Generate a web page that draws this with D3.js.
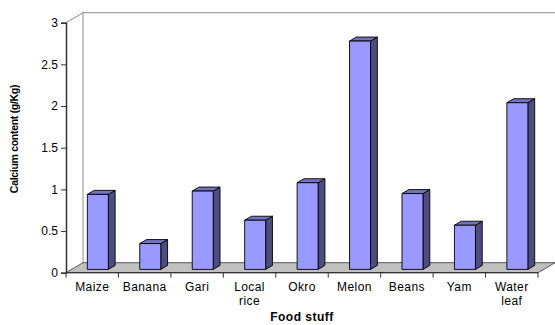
<!DOCTYPE html>
<html>
<head>
<meta charset="utf-8">
<script src="https://cdn.jsdelivr.net/npm/d3@7"></script>
<style>
  body { margin: 0; background: #fff; }
  text { font-family: "Liberation Sans", Arial, sans-serif; }
</style>
</head>
<body>
<svg width="555" height="325"></svg>
<script>
var svg = d3.select("svg");

// data
var categories = ["Maize", "Banana", "Gari", "Local rice", "Okro", "Melon", "Beans", "Yam", "Water leaf"];
var calcium = [0.90, 0.31, 0.94, 0.59, 1.04, 2.74, 0.91, 0.53, 2.0];
var yTicks = [0, 0.5, 1, 1.5, 2, 2.5, 3];

var plotLeft = 66, plotRight = 538, plotBottom = 272.7, plotTop = 22.7;
var DX = 17, DY = -10; // depth of the 3d box
var z0 = 0.33, zd = 0.4; // where the bar sits in the depth
var barW = 21;

var x = d3.scaleBand().domain(categories).range([plotLeft, plotRight]).padding(0);
var y = d3.scaleLinear().domain([0, 3]).range([plotBottom, plotTop]);

// back wall edges
var wall = svg.append("g").attr("stroke", "#8c8c8c").attr("fill", "none").attr("stroke-width", 1);
wall.append("line").attr("x1", plotLeft + DX).attr("y1", y(3) + DY).attr("x2", 555).attr("y2", y(3) + DY);
wall.append("line").attr("x1", plotLeft + DX).attr("y1", y(3) + DY).attr("x2", plotLeft + DX).attr("y2", y(0) + DY);
wall.append("line").attr("x1", plotLeft).attr("y1", y(3)).attr("x2", plotLeft + DX).attr("y2", y(3) + DY);

// floor
svg.append("path")
  .attr("d", "M" + plotLeft + "," + y(0) + "L" + plotRight + "," + y(0) +
    "L" + (plotRight + DX) + "," + (y(0) + DY) + "L" + (plotLeft + DX) + "," + (y(0) + DY) + "Z")
  .attr("fill", "#c0c0c0")
  .attr("stroke", "#333")
  .attr("stroke-width", 0.8);

// bars
var bars = svg.append("g").selectAll("g")
  .data(categories)
  .enter()
  .append("g")
  .attr("stroke", "#000")
  .attr("stroke-width", 0.9)
  .attr("stroke-linejoin", "round");

bars.each(function(d, i) {
  var g = d3.select(this);
  var x0 = x(d) + (x.bandwidth() - barW) / 2 + z0 * DX;
  var x1 = x0 + barW;
  var yb = y(0) + z0 * DY;
  var yt = y(calcium[i]) + z0 * DY;
  var dx = zd * DX, dy = zd * DY;
  // side
  g.append("path")
    .attr("d", "M" + x1 + "," + yb + "L" + (x1 + dx) + "," + (yb + dy) +
      "L" + (x1 + dx) + "," + (yt + dy) + "L" + x1 + "," + yt + "Z")
    .attr("fill", "#4d4d80");
  // top
  g.append("path")
    .attr("d", "M" + x0 + "," + yt + "L" + x1 + "," + yt +
      "L" + (x1 + dx) + "," + (yt + dy) + "L" + (x0 + dx) + "," + (yt + dy) + "Z")
    .attr("fill", "#7373bf");
  // front
  g.append("rect")
    .attr("x", x0).attr("y", yt)
    .attr("width", barW).attr("height", yb - yt)
    .attr("fill", "#9999ff");
});

// y axis
var yAxis = svg.append("g")
  .attr("transform", "translate(" + plotLeft + ",0)")
  .call(d3.axisLeft(y).tickValues(yTicks).tickSize(5).tickPadding(3).tickFormat(d3.format("")));
yAxis.select(".domain").attr("stroke", "#333").attr("stroke-width", 1.5);
yAxis.selectAll(".tick line").attr("stroke", "#333");
yAxis.selectAll("text").attr("font-size", 12).attr("fill", "#000")
  .attr("font-family", "'Liberation Sans', Arial, sans-serif");

// x axis: ticks on category boundaries
svg.append("line").attr("x1", plotLeft).attr("x2", plotRight).attr("y1", plotBottom).attr("y2", plotBottom)
  .attr("stroke", "#333").attr("stroke-width", 1.2);
svg.append("g").selectAll("line")
  .data(categories.concat(["end"]))
  .enter()
  .append("line")
  .attr("x1", function(d, i) { return plotLeft + i * x.bandwidth(); })
  .attr("x2", function(d, i) { return plotLeft + i * x.bandwidth(); })
  .attr("y1", plotBottom)
  .attr("y2", plotBottom + 5)
  .attr("stroke", "#333");

// category labels (split into two lines)
var labels = svg.append("g").selectAll("text")
  .data(categories)
  .enter()
  .append("text")
  .attr("text-anchor", "middle")
  .attr("font-size", 12)
  .attr("letter-spacing", 0.4)
  .attr("x", function(d) { return x(d) + x.bandwidth() / 2; })
  .attr("y", 291);
labels.each(function(d) {
  var words = d.split(" ");
  var t = d3.select(this);
  words.forEach(function(w, j) {
    t.append("tspan")
      .attr("x", t.attr("x"))
      .attr("dy", j === 0 ? 0 : 14)
      .text(w);
  });
});

// axis titles
svg.append("text")
  .attr("x", plotLeft + (plotRight - plotLeft) / 2)
  .attr("y", 321)
  .attr("text-anchor", "middle")
  .attr("font-size", 12)
  .attr("font-weight", "bold")
  .attr("letter-spacing", 0.5)
  .text("Food stuff");

svg.append("text")
  .attr("transform", "translate(18,139) rotate(-90)")
  .attr("text-anchor", "middle")
  .attr("font-size", 10.5)
  .attr("font-weight", "bold")
  .attr("letter-spacing", -0.3)
  .text("Calcium content (g/Kg)");
</script>
</body>
</html>
